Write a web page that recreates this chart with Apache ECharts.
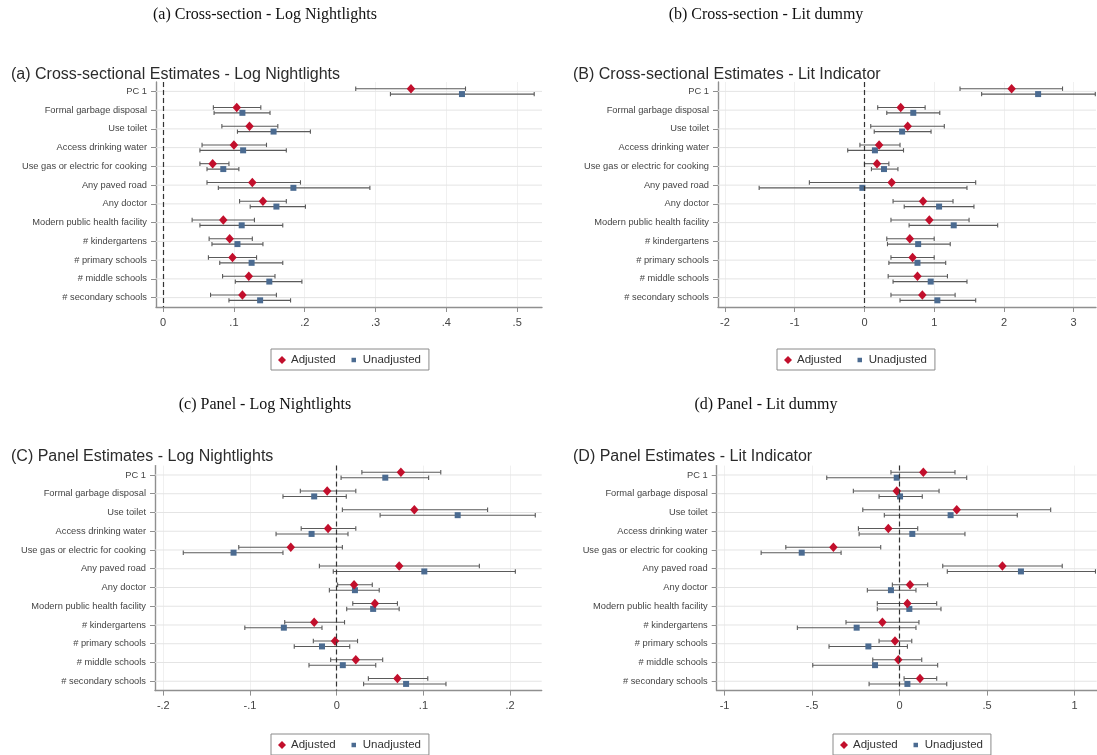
<!DOCTYPE html>
<html>
<head>
<meta charset="utf-8">
<script src="https://cdn.jsdelivr.net/npm/echarts@6/dist/echarts.min.js"></script>
<style>
  html, body { margin: 0; padding: 0; background: #ffffff; }
  #chart { width: 1097px; height: 755px; }
</style>
</head>
<body>
<div id="chart"></div>
<script>
// Covariates, listed top to bottom
const categories = [
  'PC 1', 'Formal garbage disposal', 'Use toilet', 'Access drinking water',
  'Use gas or electric for cooking', 'Any paved road', 'Any doctor',
  'Modern public health facility', '# kindergartens', '# primary schools',
  '# middle schools', '# secondary schools'
];

// (a) Cross-section, log nightlights
const csLogAdj    = [0.350, 0.104, 0.122, 0.100, 0.070, 0.126, 0.141, 0.085, 0.094, 0.098, 0.121, 0.112];
const csLogAdjLo  = [0.272, 0.071, 0.083, 0.055, 0.052, 0.062, 0.108, 0.041, 0.065, 0.064, 0.084, 0.067];
const csLogAdjHi  = [0.427, 0.138, 0.162, 0.146, 0.093, 0.194, 0.174, 0.129, 0.126, 0.132, 0.158, 0.160];
const csLogUnadj   = [0.422, 0.112, 0.156, 0.113, 0.085, 0.184, 0.160, 0.111, 0.105, 0.125, 0.150, 0.137];
const csLogUnadjLo = [0.321, 0.072, 0.105, 0.052, 0.062, 0.078, 0.123, 0.052, 0.069, 0.080, 0.102, 0.093];
const csLogUnadjHi = [0.524, 0.151, 0.208, 0.174, 0.107, 0.292, 0.201, 0.169, 0.141, 0.169, 0.196, 0.180];
const csLogTicks = [0, 0.1, 0.2, 0.3, 0.4, 0.5];

// (b) Cross-section, lit dummy
const csLitAdj    = [2.11, 0.52, 0.62, 0.21, 0.18, 0.39, 0.84, 0.93, 0.65, 0.69, 0.76, 0.83];
const csLitAdjLo  = [1.37, 0.19, 0.09, -0.065, 0.00, -0.79, 0.41, 0.38, 0.32, 0.38, 0.34, 0.38];
const csLitAdjHi  = [2.84, 0.87, 1.145, 0.51, 0.35, 1.595, 1.27, 1.50, 1.00, 1.00, 1.19, 1.30];
const csLitUnadj   = [2.49, 0.70, 0.54, 0.15, 0.28, -0.03, 1.07, 1.28, 0.77, 0.76, 0.95, 1.045];
const csLitUnadjLo = [1.68, 0.32, 0.14, -0.24, 0.10, -1.51, 0.57, 0.64, 0.33, 0.35, 0.41, 0.51];
const csLitUnadjHi = [3.31, 1.08, 0.955, 0.56, 0.48, 1.47, 1.57, 1.91, 1.23, 1.165, 1.47, 1.595];
const csLitTicks = [-2, -1, 0, 1, 2, 3];

// (c) Panel, log nightlights
const pnLogAdj    = [0.074, -0.011, 0.0895, -0.010, -0.053, 0.072, 0.020, 0.044, -0.026, -0.002, 0.022, 0.070];
const pnLogAdjLo  = [0.029, -0.042, 0.0065, -0.041, -0.113, -0.020, 0.001, 0.0185, -0.060, -0.027, -0.007, 0.0365];
const pnLogAdjHi  = [0.120, 0.022, 0.174, 0.022, 0.0065, 0.1645, 0.041, 0.070, 0.009, 0.024, 0.053, 0.105];
const pnLogUnadj   = [0.056, -0.026, 0.1395, -0.029, -0.119, 0.101, 0.021, 0.042, -0.061, -0.017, 0.007, 0.080];
const pnLogUnadjLo = [0.005, -0.062, 0.050, -0.070, -0.177, -0.004, -0.0085, 0.0115, -0.106, -0.049, -0.032, 0.031];
const pnLogUnadjHi = [0.106, 0.011, 0.229, 0.013, -0.062, 0.206, 0.049, 0.072, -0.017, 0.015, 0.045, 0.126];
const pnLogTicks = [-0.2, -0.1, 0, 0.1, 0.2];

// (d) Panel, lit dummy
const pnLitAdj    = [0.136, -0.016, 0.327, -0.064, -0.378, 0.588, 0.060, 0.045, -0.098, -0.026, -0.007, 0.117];
const pnLitAdjLo  = [-0.049, -0.264, -0.210, -0.235, -0.650, 0.247, -0.041, -0.127, -0.306, -0.117, -0.153, 0.026];
const pnLitAdjHi  = [0.317, 0.226, 0.864, 0.104, -0.1075, 0.930, 0.161, 0.2125, 0.111, 0.070, 0.127, 0.2125];
const pnLitUnadj   = [-0.016, 0.003, 0.292, 0.073, -0.559, 0.694, -0.049, 0.056, -0.245, -0.178, -0.140, 0.045];
const pnLitUnadjLo = [-0.416, -0.117, -0.087, -0.231, -0.791, 0.273, -0.184, -0.127, -0.584, -0.403, -0.496, -0.174];
const pnLitUnadjHi = [0.384, 0.130, 0.673, 0.374, -0.334, 1.12, 0.094, 0.237, 0.094, 0.045, 0.218, 0.270];
const pnLitTicks = [-1, -0.5, 0, 0.5, 1];

const RED = '#c20f2c';
const BLUE = '#4b6b91';
const CI_COLOR = '#5a5a5a';
const AXIS_COLOR = '#8f8f8f';
const SANS = 'Liberation Sans, Arial, sans-serif';
const SERIF = 'Liberation Serif, Times New Roman, serif';

// Stata-style tick labels: ".1", "-.2", "0"
function tickFmt(v) {
  const s = String(Math.round(v * 1000) / 1000);
  return s.replace(/^(-?)0\./, '$1.');
}

const panels = [
  {
    caption: '(a) Cross-section - Log Nightlights', capX: 265, capY: 7,
    title: '(a) Cross-sectional Estimates - Log Nightlights', titleX: 11, titleY: 67,
    grid: { left: 156, top: 82, width: 386, height: 225 },
    xmin: -0.01, xmax: 0.535, ticks: csLogTicks,
    adj: csLogAdj, adjLo: csLogAdjLo, adjHi: csLogAdjHi,
    un: csLogUnadj, unLo: csLogUnadjLo, unHi: csLogUnadjHi,
    legend: { left: 271, top: 349 }
  },
  {
    caption: '(b) Cross-section - Lit dummy', capX: 766, capY: 7,
    title: '(B) Cross-sectional Estimates - Lit Indicator', titleX: 573, titleY: 67,
    grid: { left: 718, top: 82, width: 378, height: 225 },
    xmin: -2.1, xmax: 3.32, ticks: csLitTicks,
    adj: csLitAdj, adjLo: csLitAdjLo, adjHi: csLitAdjHi,
    un: csLitUnadj, unLo: csLitUnadjLo, unHi: csLitUnadjHi,
    legend: { left: 777, top: 349 }
  },
  {
    caption: '(c) Panel - Log Nightlights', capX: 265, capY: 397,
    title: '(C) Panel Estimates - Log Nightlights', titleX: 11, titleY: 449,
    grid: { left: 155, top: 465.6, width: 386.7, height: 225 },
    xmin: -0.2096, xmax: 0.2364, ticks: pnLogTicks,
    adj: pnLogAdj, adjLo: pnLogAdjLo, adjHi: pnLogAdjHi,
    un: pnLogUnadj, unLo: pnLogUnadjLo, unHi: pnLogUnadjHi,
    legend: { left: 271, top: 734 }
  },
  {
    caption: '(d) Panel - Lit dummy', capX: 766, capY: 397,
    title: '(D) Panel Estimates - Lit Indicator', titleX: 573, titleY: 449,
    grid: { left: 716.7, top: 465.6, width: 380, height: 225 },
    xmin: -1.045, xmax: 1.127, ticks: pnLitTicks,
    adj: pnLitAdj, adjLo: pnLitAdjLo, adjHi: pnLitAdjHi,
    un: pnLitUnadj, unLo: pnLitUnadjLo, unHi: pnLitUnadjHi,
    legend: { left: 833, top: 734 }
  }
];

// Confidence interval with end caps, nudged up or down within the row
function ciRenderer(offset) {
  return function (params, api) {
    const row = api.value(2);
    const a = api.coord([api.value(0), row]);
    const b = api.coord([api.value(1), row]);
    const y = a[1] + offset;
    const cap = 2.2;
    const style = { stroke: CI_COLOR, lineWidth: 1.1 };
    return {
      type: 'group',
      children: [
        { type: 'line', shape: { x1: a[0], y1: y, x2: b[0], y2: y }, style: style },
        { type: 'line', shape: { x1: a[0], y1: y - cap, x2: a[0], y2: y + cap }, style: style },
        { type: 'line', shape: { x1: b[0], y1: y - cap, x2: b[0], y2: y + cap }, style: style }
      ]
    };
  };
}

// Light horizontal rule through each covariate row
function rowRule(params, api) {
  const p = api.coord([0, api.value(0)]);
  const cs = params.coordSys;
  return {
    type: 'line',
    shape: { x1: cs.x, y1: p[1], x2: cs.x + cs.width, y2: p[1] },
    style: { stroke: '#e4e4e4', lineWidth: 1 }
  };
}

const option = {
  animation: false,
  backgroundColor: '#ffffff',
  title: [], grid: [], xAxis: [], yAxis: [], legend: [], series: []
};

panels.forEach(function (p, k) {
  option.title.push({
    text: p.caption, left: p.capX, top: p.capY, textAlign: 'center', padding: 0,
    textStyle: { fontFamily: SERIF, fontSize: 16, fontWeight: 'normal', color: '#111' }
  });
  option.title.push({
    text: p.title, left: p.titleX, top: p.titleY, padding: 0,
    textStyle: { fontFamily: SANS, fontSize: 16, fontWeight: 'normal', color: '#2b2b2b' }
  });
  option.grid.push(Object.assign({ containLabel: false }, p.grid));
  option.xAxis.push({
    type: 'value', gridIndex: k, min: p.xmin, max: p.xmax,
    axisLine: { show: true, onZero: false, lineStyle: { color: AXIS_COLOR, width: 1.4 } },
    axisTick: { show: true, length: 5, customValues: p.ticks, lineStyle: { color: AXIS_COLOR } },
    axisLabel: {
      customValues: p.ticks, formatter: tickFmt, margin: 10,
      fontFamily: SANS, fontSize: 11, color: '#444'
    },
    splitLine: { show: true, lineStyle: { color: '#f0f0f0', width: 1 } }
  });
  option.yAxis.push({
    type: 'category', gridIndex: k, data: categories, inverse: true,
    axisLine: { show: true, onZero: false, lineStyle: { color: AXIS_COLOR, width: 1.4 } },
    axisTick: { show: true, alignWithLabel: true, length: 5, lineStyle: { color: AXIS_COLOR } },
    axisLabel: { margin: 9, fontFamily: SANS, fontSize: 9.3, color: '#444', interval: 0 },
    splitLine: { show: false }
  });
  option.legend.push({
    left: p.legend.left, top: p.legend.top, orient: 'horizontal',
    selectedMode: false,
    data: [
      { name: 'Adjusted', icon: 'diamond' },
      { name: 'Unadjusted', icon: 'path://M0,0M10,10M2.2,2.2h5.6v5.6h-5.6z' }
    ],
    itemWidth: 8, itemHeight: 8, itemGap: 14,
    padding: [5, 8, 4, 7],
    borderColor: '#8a8a8a', borderWidth: 1, backgroundColor: '#ffffff',
    textStyle: { fontFamily: SANS, fontSize: 11.5, color: '#333' }
  });

  // row rules + zero reference line
  option.series.push({
    type: 'custom', name: 'rows' + k, xAxisIndex: k, yAxisIndex: k, z: 1, silent: true,
    renderItem: rowRule, encode: { y: 0 },
    data: categories.map(function (c, i) { return [i]; }),
    markLine: {
      silent: true, symbol: ['none', 'none'], label: { show: false },
      lineStyle: { color: '#333', type: [5, 3], width: 1.2 },
      data: [{ xAxis: 0 }]
    }
  });
  // confidence intervals
  option.series.push({
    type: 'custom', name: 'ciAdj' + k, xAxisIndex: k, yAxisIndex: k, z: 2, silent: true,
    renderItem: ciRenderer(-2.7), encode: { x: [0, 1], y: 2 },
    data: p.adj.map(function (v, i) { return [p.adjLo[i], p.adjHi[i], i]; })
  });
  option.series.push({
    type: 'custom', name: 'ciUnadj' + k, xAxisIndex: k, yAxisIndex: k, z: 2, silent: true,
    renderItem: ciRenderer(2.7), encode: { x: [0, 1], y: 2 },
    data: p.un.map(function (v, i) { return [p.unLo[i], p.unHi[i], i]; })
  });
  // point estimates
  option.series.push({
    type: 'scatter', name: 'Adjusted', xAxisIndex: k, yAxisIndex: k, z: 4,
    symbol: 'diamond', symbolSize: [8.5, 9.5], symbolOffset: [0, -2.7],
    itemStyle: { color: RED, opacity: 1 },
    data: p.adj.map(function (v, i) { return [v, i]; })
  });
  option.series.push({
    type: 'scatter', name: 'Unadjusted', xAxisIndex: k, yAxisIndex: k, z: 3,
    symbol: 'rect', symbolSize: 6, symbolOffset: [0, 2.7],
    itemStyle: { color: BLUE, opacity: 1 },
    data: p.un.map(function (v, i) { return [v, i]; })
  });
});

const chart = echarts.init(document.getElementById('chart'), null, { renderer: 'canvas' });
chart.setOption(option);
</script>
</body>
</html>
